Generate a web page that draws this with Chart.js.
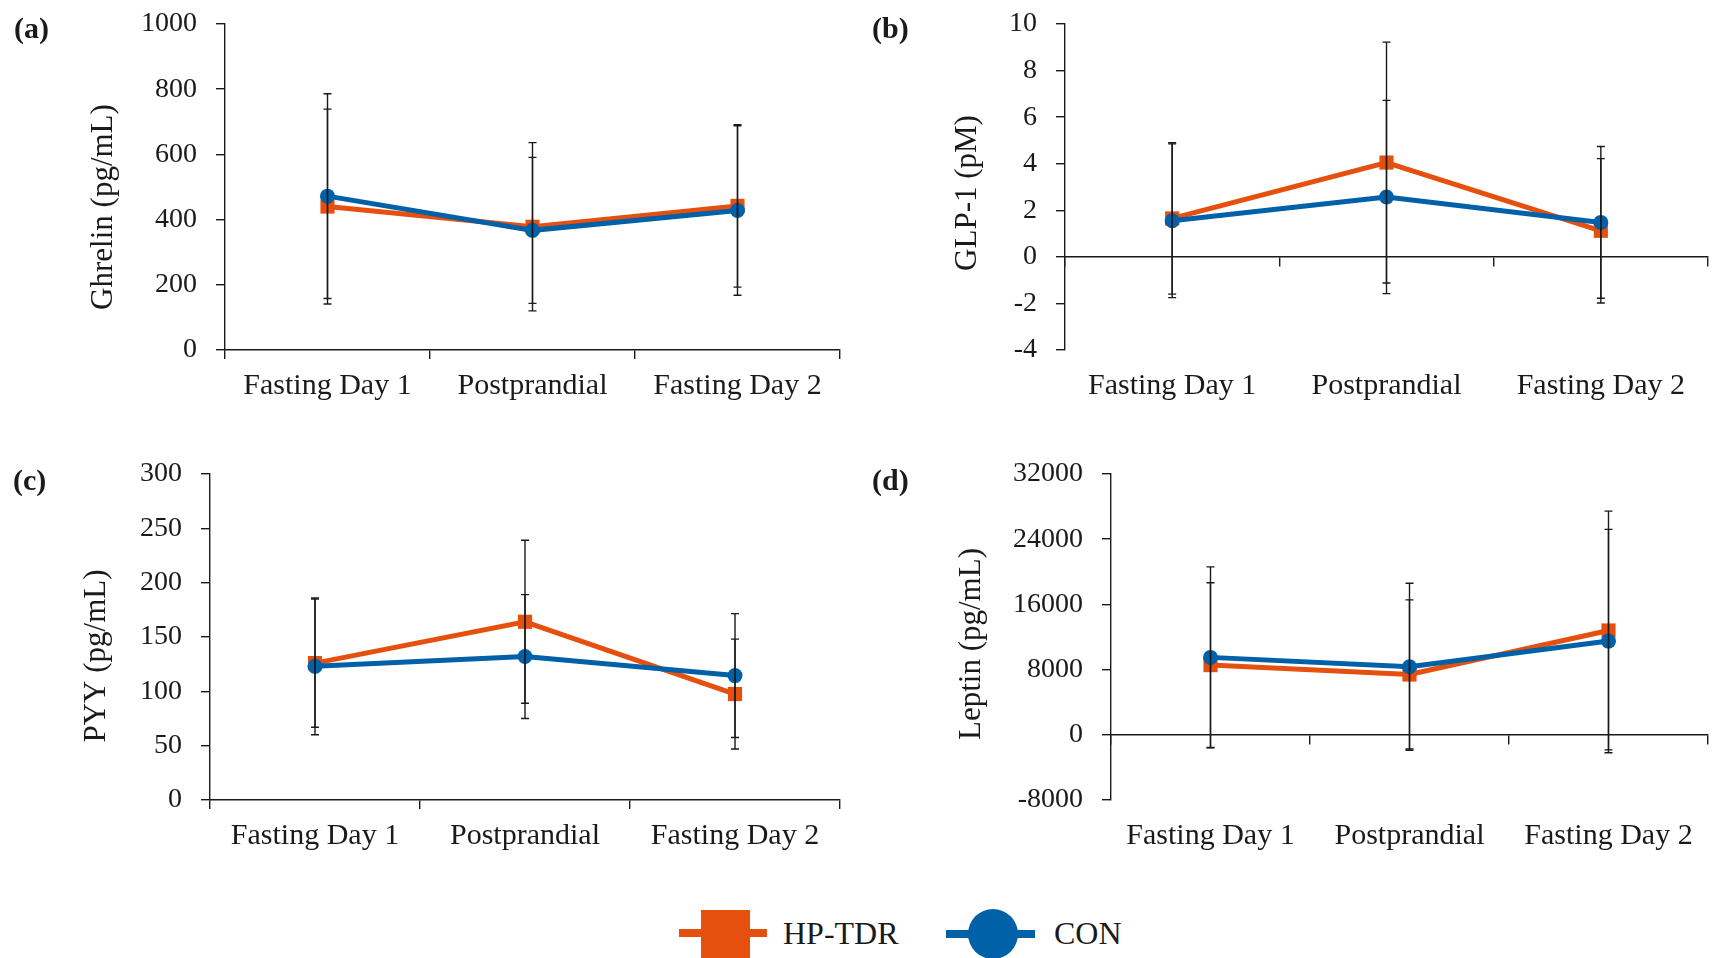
<!doctype html>
<html>

<head>
    <meta charset="utf-8">
    <title>Appetite hormones</title>
    <script src="https://cdn.jsdelivr.net/npm/chart.js@4"></script>
    <style>
        body {
            margin: 0;
            background: #fff;
            width: 1718px;
            height: 958px;
            position: relative;
            overflow: hidden;
            font-family: 'Liberation Serif', serif;
            color: #1a1a1a;
        }

        canvas,
        .tag,
        .key,
        .keytext {
            position: absolute;
        }

        .tag {
            font-weight: bold;
            font-size: 30px;
            line-height: 30px;
        }

        .keytext {
            top: 915px;
            font-size: 32px;
            line-height: 36px;
        }
    </style>
</head>

<body>
    <canvas id="ghrelin" width="859" height="440" style="left:0;top:0"></canvas>
    <canvas id="glp1" width="859" height="440" style="left:859px;top:0"></canvas>
    <canvas id="pyy" width="859" height="440" style="left:0;top:440px"></canvas>
    <canvas id="leptin" width="859" height="440" style="left:859px;top:440px"></canvas>

    <div class="tag" style="left:14px;top:13px">(a)</div>
    <div class="tag" style="left:872px;top:13px">(b)</div>
    <div class="tag" style="left:13px;top:465px">(c)</div>
    <div class="tag" style="left:872px;top:465px">(d)</div>

    <!-- shared legend -->
    <div class="key" style="left:679px;top:929px;width:88px;height:8px;background:#E6500F"></div>
    <div class="key" style="left:701px;top:910px;width:49px;height:49px;background:#E6500F"></div>
    <div class="keytext" style="left:783px">HP-TDR</div>
    <div class="key" style="left:946px;top:930px;width:89px;height:8px;background:#0060A8"></div>
    <div class="key" style="left:968px;top:909px;width:50px;height:50px;border-radius:50%;background:#0060A8"></div>
    <div class="keytext" style="left:1054px">CON</div>

    <script>
        const timepoints = ['Fasting Day 1', 'Postprandial', 'Fasting Day 2'];

        // mean and SD per time point
        const ghrelinHp = [440, 378, 442];
        const ghrelinHpSd = [299, 258, 249];
        const ghrelinCon = [472, 367, 428];
        const ghrelinConSd = [314, 224, 260];

        const glpHp = [1.65, 4.05, 1.12];
        const glpHpSd = [3.25, 5.17, 3.1];
        const glpCon = [1.55, 2.57, 1.48];
        const glpConSd = [3.3, 4.15, 3.26];

        const pyyHp = [126, 164, 97.5];
        const pyyHpSd = [59, 75, 50.5];
        const pyyCon = [123, 132, 114.5];
        const pyyConSd = [63, 57, 57];

        const leptinHp = [8550, 7400, 12800];
        const leptinHpSd = [10100, 9150, 14650];
        const leptinCon = [9500, 8350, 11500];
        const leptinConSd = [11100, 10250, 13700];

        const ORANGE = '#E6500F';
        const BLUE = '#0060A8';
        const INK = '#1a1a1a';

        Chart.defaults.font.family = "'Liberation Serif', serif";
        Chart.defaults.color = INK;

        // vertical SD bars with caps, drawn over the markers
        const errorBars = {
            id: 'errorBars',
            afterDatasetsDraw(chart) {
                const { ctx, scales: { y } } = chart
                ctx.save()
                ctx.strokeStyle = INK
                ctx.lineWidth = 1.4
                chart.data.datasets.forEach((ds, i) => {
                    chart.getDatasetMeta(i).data.forEach((pt, j) => {
                        const top = y.getPixelForValue(ds.data[j] + ds.sd[j])
                        const bot = y.getPixelForValue(ds.data[j] - ds.sd[j])
                        ctx.beginPath()
                        ctx.moveTo(pt.x, top)
                        ctx.lineTo(pt.x, bot)
                        ctx.moveTo(pt.x - 4, top)
                        ctx.lineTo(pt.x + 4, top)
                        ctx.moveTo(pt.x - 4, bot)
                        ctx.lineTo(pt.x + 4, bot)
                        ctx.stroke()
                    })
                })
                ctx.restore()
            }
        }

        // rotated y axis title, nudged along the axis
        const sideTitle = {
            id: 'sideTitle',
            afterDraw(chart, args, opts) {
                const { ctx, chartArea } = chart
                ctx.save()
                ctx.translate(opts.x, (chartArea.top + chartArea.bottom) / 2 + opts.dy)
                ctx.rotate(-Math.PI / 2)
                ctx.font = "31px 'Liberation Serif'"
                ctx.fillStyle = INK
                ctx.textAlign = 'center'
                ctx.textBaseline = 'middle'
                ctx.fillText(opts.text, 0, 0)
                ctx.restore()
            }
        }

        function panel(id, o) {
            const axisLine = { display: true, color: INK, width: 1.4 }
            const tickMarks = {
                display: true, drawOnChartArea: false, drawTicks: true, tickLength: 9,
                color: INK, lineWidth: 1.4, offset: true
            }

            const scales = {
                x: {
                    type: 'category',
                    offset: true,
                    position: 'bottom',
                    afterFit: s => { s.height = o.xHeight },
                    border: o.zeroAxis ? { display: false } : axisLine,
                    grid: o.zeroAxis ? { display: false, drawTicks: false } : tickMarks,
                    ticks: {
                        font: { size: 30 }, color: INK, padding: o.zeroAxis ? 18 : 9,
                        maxRotation: 0, autoSkip: false
                    }
                },
                y: {
                    min: o.min,
                    max: o.max,
                    // fixed axis width; the layout padding alone sets the plot top
                    afterFit: s => {
                        s.width = o.yWidth
                        s.paddingTop = 0
                        s.paddingBottom = 0
                    },
                    border: axisLine,
                    grid: { drawOnChartArea: false, tickLength: 9, color: INK, lineWidth: 1.4 },
                    ticks: {
                        stepSize: o.step, padding: 19, font: { size: 28 }, color: INK,
                        callback: v => String(v)
                    }
                }
            }

            // axis line crossing at zero when the range goes negative
            if (o.zeroAxis) {
                scales.x0 = {
                    type: 'category',
                    offset: true,
                    position: { y: 0 },
                    border: axisLine,
                    grid: tickMarks,
                    ticks: { display: false }
                }
            }

            return new Chart(document.getElementById(id).getContext('2d'), {
                type: 'line',
                data: {
                    labels: timepoints,
                    datasets: [{
                        label: 'HP-TDR',
                        data: o.hp,
                        sd: o.hpSd,
                        borderColor: ORANGE,
                        backgroundColor: ORANGE,
                        borderWidth: 5,
                        pointStyle: 'rect',
                        pointRadius: 10,
                        pointBorderWidth: 0,
                        tension: 0,
                        order: 1
                    }, {
                        label: 'CON',
                        data: o.con,
                        sd: o.conSd,
                        borderColor: BLUE,
                        backgroundColor: BLUE,
                        borderWidth: 5,
                        pointStyle: 'circle',
                        pointRadius: 7.5,
                        pointBorderWidth: 0,
                        tension: 0,
                        order: 0
                    }]
                },
                options: {
                    responsive: false,
                    animation: false,
                    devicePixelRatio: 1,
                    layout: { padding: { left: 0, top: o.top, right: o.right, bottom: 0 } },
                    scales: scales,
                    plugins: {
                        legend: { display: false },
                        tooltip: { enabled: false },
                        sideTitle: o.title
                    }
                },
                plugins: [errorBars, sideTitle]
            });
        }

        panel('ghrelin', {
            hp: ghrelinHp, hpSd: ghrelinHpSd, con: ghrelinCon, conSd: ghrelinConSd,
            min: 0, max: 1000, step: 200,
            yWidth: 225, xHeight: 90, top: 24, right: 19,
            title: { text: 'Ghrelin (pg/mL)', x: 104, dy: 20 }
        })

        panel('glp1', {
            hp: glpHp, hpSd: glpHpSd, con: glpCon, conSd: glpConSd,
            min: -4, max: 10, step: 2, zeroAxis: true,
            yWidth: 206, xHeight: 90, top: 24, right: 9,
            title: { text: 'GLP-1 (pM)', x: 109, dy: 6 }
        })

        panel('pyy', {
            hp: pyyHp, hpSd: pyyHpSd, con: pyyCon, conSd: pyyConSd,
            min: 0, max: 300, step: 50,
            yWidth: 210, xHeight: 80, top: 34, right: 19,
            title: { text: 'PYY (pg/mL)', x: 97, dy: 19 }
        })

        panel('leptin', {
            hp: leptinHp, hpSd: leptinHpSd, con: leptinCon, conSd: leptinConSd,
            min: -8000, max: 32000, step: 8000, zeroAxis: true,
            yWidth: 252, xHeight: 80, top: 34, right: 9,
            title: { text: 'Leptin (pg/mL)', x: 113, dy: 7 }
        })
    </script>
</body>

</html>
